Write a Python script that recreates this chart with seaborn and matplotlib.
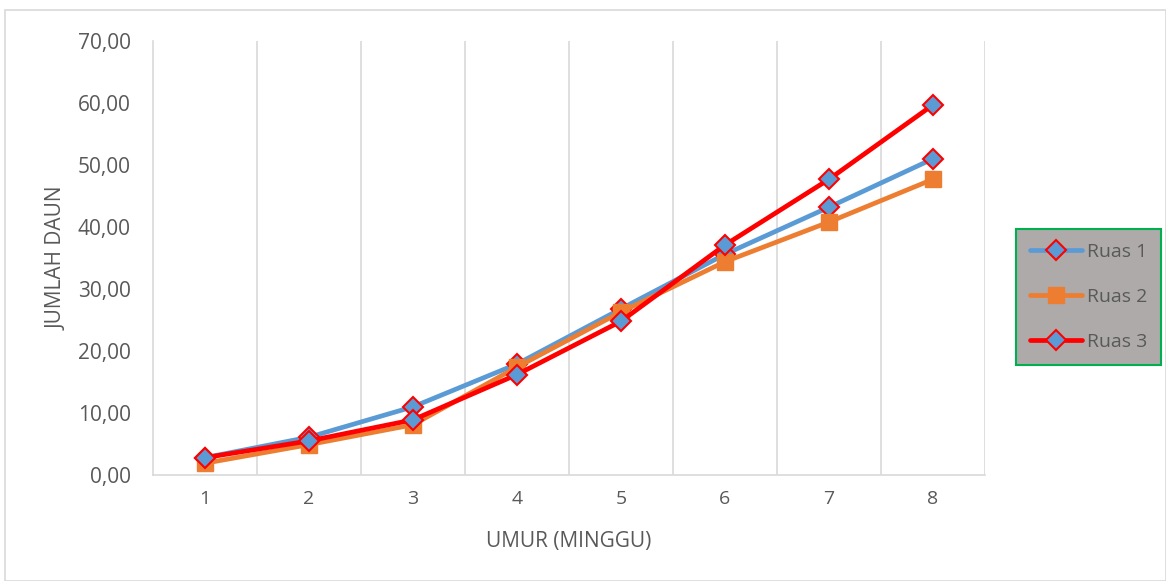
import matplotlib
matplotlib.use("Agg")
import matplotlib.pyplot as plt
import seaborn as sns
import pandas as pd
from matplotlib.patches import Rectangle

weeks = [1, 2, 3, 4, 5, 6, 7, 8]
ruas_1 = [2.8, 6.1, 11.0, 17.9, 26.8, 35.6, 43.2, 51.0]
ruas_2 = [1.9, 4.9, 8.1, 17.4, 26.3, 34.4, 40.8, 47.7]
ruas_3 = [2.8, 5.5, 8.9, 16.2, 24.8, 37.1, 47.7, 59.7]
series_names = ["Ruas 1", "Ruas 2", "Ruas 3"]
y_ticks = [0, 10, 20, 30, 40, 50, 60, 70]

df = pd.DataFrame({
    "UMUR": weeks * 3,
    "DAUN": ruas_1 + ruas_2 + ruas_3,
    "Seri": [series_names[0]] * 8 + [series_names[1]] * 8 + [series_names[2]] * 8,
})

sns.set_theme(style="white")
plt.rcParams["font.family"] = ["Open Sans", "DejaVu Sans"]

W, H = 1166, 581
fig = plt.figure(figsize=(W / 100, H / 100), dpi=100)
ax = fig.add_axes([153 / W, 1 - 475 / H, (985 - 153) / W, (475 - 41) / H])

palette = {"Ruas 1": "#5B9BD5", "Ruas 2": "#ED7D31", "Ruas 3": "#FF0000"}
styles = {
    "Ruas 1": dict(marker="D", mfc="#5B9BD5", mec="#FF0000", ms=10.0, mew=1.5),
    "Ruas 2": dict(marker="s", mfc="#ED7D31", mec="#ED7D31", ms=11.0, mew=1.0),
    "Ruas 3": dict(marker="D", mfc="#5B9BD5", mec="#FF0000", ms=10.0, mew=1.5),
}

for i, name in enumerate(series_names):
    sub = df[df["Seri"] == name]
    sns.lineplot(data=sub, x="UMUR", y="DAUN", ax=ax, color=palette[name],
                 linewidth=3.4, label=name, zorder=3 + i, **styles[name])

ax.set_xlim(0.5, 8.5)
ax.set_ylim(0, 70)
ax.set_yticks(y_ticks)
ax.set_yticklabels([f"{v:.2f}".replace(".", ",") for v in y_ticks])
ax.set_xticks(weeks)
ax.set_xticklabels([str(w) for w in weeks])

# vertical gridlines between categories
for b in [k + 0.5 for k in range(1, 9)]:
    ax.axvline(b, color="#D9D9D9", linewidth=1.2, zorder=1)

for side in ["top", "right"]:
    ax.spines[side].set_visible(False)
for side in ["left", "bottom"]:
    ax.spines[side].set_color("#D9D9D9")
    ax.spines[side].set_linewidth(1.2)

ax.tick_params(axis="both", colors="#595959", length=0)
ax.tick_params(axis="y", pad=16, labelsize=15)
ax.tick_params(axis="x", pad=11, labelsize=14)

ax.set_xlabel("UMUR (MINGGU)", fontsize=15, color="#595959")
ax.set_ylabel("JUMLAH DAUN", fontsize=15, color="#595959")
ax.xaxis.set_label_coords(0.5, -(531 - 475) / 434)
ax.yaxis.set_label_coords((68 - 153) / 832, 0.5)

leg = ax.legend(loc="upper left", bbox_to_anchor=(1016 / W, 1 - 229 / H),
                bbox_transform=fig.transFigure, frameon=True,
                fontsize=14, handlelength=2.7, labelspacing=1.4,
                borderpad=0.7, handletextpad=0.25, borderaxespad=0,
                fancybox=False)
leg.get_frame().set_facecolor("#AEAAAA")
leg.get_frame().set_edgecolor("#00B050")
leg.get_frame().set_linewidth(1.5)
leg.get_frame().set_alpha(1)
for t in leg.get_texts():
    t.set_color("#595959")

# outer chart border
fig.patches.append(Rectangle((5 / W, 0), 1 - 5 / W, 1 - 10 / H,
                             transform=fig.transFigure, fill=False,
                             edgecolor="#D9D9D9", linewidth=1.2))

fig.savefig("out.png", dpi=100)
